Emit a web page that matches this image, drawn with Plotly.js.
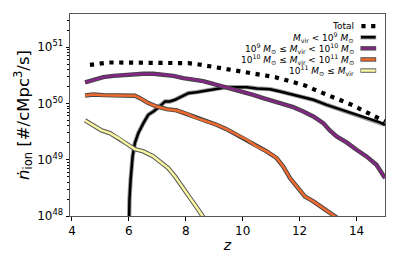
<!DOCTYPE html>
<html><head><meta charset="utf-8">
<script src="https://cdn.plot.ly/plotly-3.0.1.min.js"></script>
<style>html,body{margin:0;padding:0;background:#fff}#c{width:399px;height:266px}</style>
</head><body><div id="c"></div>
<script>
// values stored as log10(n_ion [#/cMpc^3/s])
const zTotal = [4.63,4.98,5.31,5.66,6.0,6.37,6.72,7.06,7.38,7.74,8.09,8.40,8.75,9.08,9.43,9.78,10.14,10.49,10.80,11.15,11.48,11.83,12.16,12.48,12.83,13.18,13.51,13.86,14.18,14.53,14.88,15.0];
const logTotal = [50.686,50.716,50.728,50.728,50.728,50.734,50.728,50.728,50.728,50.716,50.716,50.698,50.669,50.639,50.598,50.574,50.550,50.527,50.491,50.467,50.420,50.373,50.325,50.254,50.183,50.112,50.053,49.970,49.888,49.799,49.710,49.68];

const zLow = [5.97,5.99,6.02,6.06,6.13,6.21,6.33,6.51,6.68,6.86,7.09,7.27,7.44,7.62,7.85,8.09,8.38,8.73,9.08,9.43,9.78,10.14,10.49,10.96,11.31,11.66,12.01,12.48,12.95,13.41,13.88,14.35,14.82,15.0];
const logLow = [47.0,48.0,48.290,48.645,49.059,49.296,49.473,49.651,49.799,49.858,49.947,50.036,50.036,50.065,50.124,50.183,50.201,50.231,50.272,50.290,50.290,50.290,50.266,50.254,50.213,50.172,50.124,50.065,49.976,49.899,49.828,49.740,49.663,49.621];

const zMid1 = [4.46,4.75,5.10,5.45,5.80,6.15,6.51,6.86,7.21,7.56,7.91,8.26,8.61,8.96,9.32,9.67,10.02,10.37,10.72,11.07,11.42,11.78,12.13,12.48,12.83,13.06,13.30,13.65,14.00,14.35,14.70,15.0];
const logMid1 = [50.373,50.420,50.467,50.491,50.509,50.521,50.527,50.527,50.515,50.491,50.450,50.432,50.396,50.349,50.302,50.254,50.207,50.154,50.095,50.047,49.988,49.935,49.858,49.769,49.651,49.520,49.414,49.308,49.178,49.059,48.911,48.675];

const zMid2 = [4.46,4.75,5.10,5.45,5.80,6.21,6.39,6.68,6.97,7.33,7.68,8.03,8.38,8.73,9.08,9.43,9.78,10.14,10.49,10.84,11.19,11.42,11.66,11.89,12.18,12.48,12.83,13.18,13.41];
const logMid2 = [50.142,50.160,50.148,50.142,50.136,50.136,50.095,50.006,49.947,49.899,49.876,49.817,49.740,49.680,49.621,49.544,49.444,49.355,49.237,49.148,49.030,48.882,48.675,48.527,48.349,48.260,48.142,48.024,47.935];

const zHigh = [4.46,4.75,5.04,5.33,5.63,5.92,6.21,6.51,6.86,7.15,7.38,7.62,7.85,8.15,8.44,8.67];
const logHigh = [49.698,49.604,49.521,49.473,49.385,49.284,49.189,49.148,49.059,48.941,48.852,48.704,48.527,48.320,48.112,47.935];

const legendLabels = [
  "Total",
  "<i>M</i><sub>vir</sub> < 10<sup>9</sup> <i>M</i><sub>⊙</sub>",
  "10<sup>9</sup> <i>M</i><sub>⊙</sub> ≤ <i>M</i><sub>vir</sub> < 10<sup>10</sup> <i>M</i><sub>⊙</sub>",
  "10<sup>10</sup> <i>M</i><sub>⊙</sub> ≤ <i>M</i><sub>vir</sub> < 10<sup>11</sup> <i>M</i><sub>⊙</sub>",
  "10<sup>11</sup> <i>M</i><sub>⊙</sub> ≤ <i>M</i><sub>vir</sub>"
];
const colors = ["#000000","#000004","#832684","#ef6a2e","#f9f6a2"];
const edgeColors = [null,"#9a9a9a","#444444","#444444","#555555"];
const yTickVals = [1e48,1e49,1e50,1e51];
const yTickText = ["10<sup>48</sup>","10<sup>49</sup>","10<sup>50</sup>","10<sup>51</sup>"];

const toLin = a => a.map(v => Math.pow(10, v));
const series = [[zLow,logLow],[zMid1,logMid1],[zMid2,logMid2],[zHigh,logHigh]];
const traces = [];
series.forEach((s,i) => {
  traces.push({x:s[0], y:toLin(s[1]), mode:'lines', line:{color:edgeColors[i+1], width:4.4}, hoverinfo:'skip', showlegend:false});
  traces.push({x:s[0], y:toLin(s[1]), mode:'lines', line:{color:colors[i+1], width:2.5}, showlegend:false});
});
traces.push({x:zTotal, y:toLin(logTotal), mode:'lines', line:{color:'#000', width:4.2, dash:'4.2px,5.6px'}, showlegend:false});

const rowY = [0.94, 0.885, 0.830, 0.775, 0.72];
const annotations = legendLabels.map((t,i) => ({
  text:t, xref:'paper', yref:'paper', x:0.907, y:rowY[i], xanchor:'right', yanchor:'middle',
  showarrow:false, font:{family:'DejaVu Sans', size:9, color:'#000'}
}));
const shapes = [];
shapes.push({type:'line', xref:'paper', yref:'paper', x0:0.925, x1:0.97, y0:rowY[0], y1:rowY[0], line:{color:'#000', width:4.2, dash:'4.2px,5.6px'}});
for (let i=1;i<5;i++){
  shapes.push({type:'line', xref:'paper', yref:'paper', x0:0.922, x1:0.972, y0:rowY[i], y1:rowY[i], line:{color:edgeColors[i], width:4.4}});
  shapes.push({type:'line', xref:'paper', yref:'paper', x0:0.924, x1:0.970, y0:rowY[i], y1:rowY[i], line:{color:colors[i], width:2.5}});
}

const layout = {
  width:399, height:266,
  margin:{l:70, r:14, t:14, b:50},
  paper_bgcolor:'#fff', plot_bgcolor:'#fff',
  font:{family:'DejaVu Sans', size:12, color:'#000'},
  showlegend:false,
  xaxis:{range:[3.93,15.0], dtick:2, tick0:4, ticks:'outside', ticklen:3.5, tickcolor:'#000',
    showline:true, mirror:true, linecolor:'#555', linewidth:1, showgrid:false, zeroline:false,
    tickfont:{size:12}, title:{text:'<i>z</i>', font:{size:14}, standoff:3}},
  yaxis:{type:'log', range:[48, 51.59], tickmode:'array', tickvals:yTickVals, ticktext:yTickText,
    ticks:'outside', ticklen:3.5, tickcolor:'#000', showline:true, mirror:true, linecolor:'#555', linewidth:1,
    showgrid:false, zeroline:false, tickfont:{size:12},
    minor:{ticks:'outside', ticklen:2, tickcolor:'#000', dtick:'D1', showgrid:false},
    title:{text:'<i>ṅ</i><sub>ion</sub> [#/cMpc<sup>3</sup>/s]', font:{size:16.5}, standoff:3}},
  annotations:annotations, shapes:shapes
};
Plotly.newPlot('c', traces, layout, {staticPlot:true, displayModeBar:false});
</script></body></html>
